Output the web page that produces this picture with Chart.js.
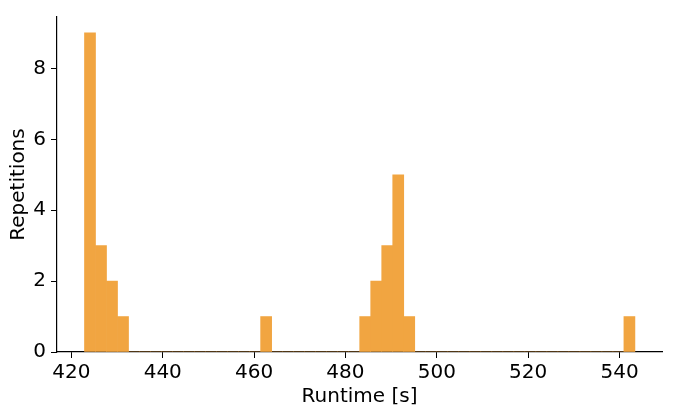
<!DOCTYPE html>
<html>
<head>
<meta charset="utf-8">
<script src="https://cdn.jsdelivr.net/npm/chart.js@4"></script>
<style>
  html, body { margin: 0; padding: 0; background: #fff; }
  #wrap { width: 676px; height: 417px; }
</style>
</head>
<body>
<div id="wrap"><canvas id="histChart" width="676" height="417"></canvas></div>
<script>
// Histogram of runtimes (50 bins)
const firstEdge = 422.87;
const binWidth = 2.41;
const counts = [
    9, 3, 2, 1, 0, 0, 0, 0, 0, 0,
    0, 0, 0, 0, 0, 0, 1, 0, 0, 0,
    0, 0, 0, 0, 0, 1, 2, 3, 5, 1,
    0, 0, 0, 0, 0, 0, 0, 0, 0, 0,
    0, 0, 0, 0, 0, 0, 0, 0, 0, 1
];
const xTicks = [420, 440, 460, 480, 500, 520, 540];
const yTicks = [0, 2, 4, 6, 8];

const xMin = 416.85;
const xMax = 549.3;
const yMax = 9.45;

const barColor = '#f1a541';
const fontFamily = '"DejaVu Sans", sans-serif';

const points = counts.map((c, i) => ({ x: firstEdge + binWidth * (i + 0.5), y: c }));

const ctx = document.getElementById('histChart').getContext('2d');
new Chart(ctx, {
    type: 'bar',
    data: {
        datasets: [{
            data: points,
            backgroundColor: barColor,
            borderWidth: 0,
            barPercentage: 1,
            categoryPercentage: 1
        }]
    },
    options: {
        responsive: false,
        animation: false,
        layout: { padding: { top: 14, right: 14, left: 0, bottom: 0 } },
        plugins: {
            legend: { display: false },
            tooltip: { enabled: false }
        },
        scales: {
            x: {
                type: 'linear',
                min: xMin,
                max: xMax,
                offset: false,
                afterBuildTicks: scale => { scale.ticks = xTicks.map(v => ({ value: v })); },
                afterFit: scale => { scale.height = 65; },
                grid: { offset: false, drawOnChartArea: false, drawTicks: true, tickLength: 6, color: '#000', lineWidth: 1 },
                border: { display: true, color: '#000', width: 1.2 },
                ticks: {
                    color: '#000',
                    padding: 3,
                    maxRotation: 0,
                    autoSkip: false,
                    font: { family: fontFamily, size: 20 }
                },
                title: {
                    display: true,
                    text: 'Runtime [s]',
                    color: '#000',
                    padding: { top: 2, bottom: 8 },
                    font: { family: fontFamily, size: 20 }
                }
            },
            y: {
                min: 0,
                max: yMax,
                afterBuildTicks: scale => { scale.ticks = yTicks.map(v => ({ value: v })); },
                afterFit: scale => { scale.width = 57; },
                grid: { drawOnChartArea: false, drawTicks: true, tickLength: 6, color: '#000', lineWidth: 1 },
                border: { display: true, color: '#000', width: 1.2 },
                ticks: {
                    color: '#000',
                    padding: 5,
                    font: { family: fontFamily, size: 20 }
                },
                title: {
                    display: true,
                    text: 'Repetitions',
                    color: '#000',
                    padding: { top: 7, bottom: 2 },
                    font: { family: fontFamily, size: 20 }
                }
            }
        }
    }
});
</script>
</body>
</html>
